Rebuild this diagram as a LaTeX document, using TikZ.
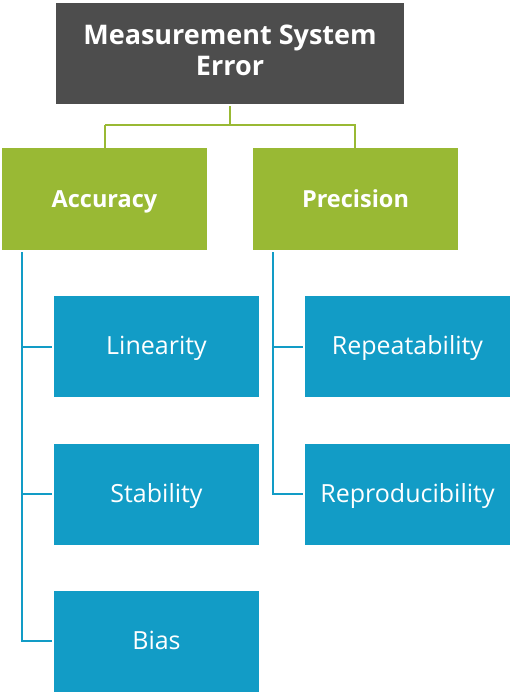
\documentclass[tikz,border=0pt]{standalone}
\usepackage{fontspec}
\setmainfont{Open Sans}
\definecolor{topgray}{HTML}{4D4D4D}
\definecolor{midgreen}{HTML}{99B934}
\definecolor{leafblue}{HTML}{129CC6}
\begin{document}
\begin{tikzpicture}[x=1pt,y=-1pt,
  topbox/.style={fill=topgray,text=white,font=\fontsize{27}{31}\selectfont\bfseries,align=center,inner sep=0pt,text depth=6pt},
  catbox/.style={fill=midgreen,text=white,font=\fontsize{23.5}{28}\selectfont\bfseries,inner sep=0pt,text height=20pt,text depth=4pt},
  leafbox/.style={fill=leafblue,text=white,font=\fontsize{25}{28}\selectfont,inner sep=0pt,text height=20pt,text depth=4pt},
  gline/.style={draw=midgreen,line width=2pt},
  bline/.style={draw=leafblue,line width=2pt}]
\useasboundingbox (0,0) rectangle (512,694);
\node[topbox,minimum width=348pt,minimum height=101pt] (top) at (230,53.5) {Measurement System\\Error};
\node[catbox,minimum width=205pt,minimum height=102pt] (acc) at (104.5,199) {Accuracy};
\node[catbox,minimum width=205pt,minimum height=102pt] (pre) at (355.5,199) {Precision};
\node[leafbox,minimum width=205pt,minimum height=101pt] (lin) at (156.5,346.5) {Linearity};
\node[leafbox,minimum width=205pt,minimum height=101pt] (sta) at (156.5,494) {Stability};
\node[leafbox,minimum width=205pt,minimum height=101pt] (bia) at (156.5,641) {Bias};
\node[leafbox,minimum width=205pt,minimum height=101pt] (rep) at (407.5,346.5) {Repeatability};
\node[leafbox,minimum width=205pt,minimum height=101pt] (rpr) at (407.5,494) {Reproducibility};
\coordinate (gmid) at (230,125);
\draw[gline] ([yshift=-2pt]top.south) -- (gmid);
\draw[gline] (105,125) -- ([yshift=-2pt]acc.north -| 105,0);
\draw[gline] (105,125) -- (355,125) -- ([yshift=-2pt]pre.north -| 355,0);
\coordinate (ab) at (22,252);
\coordinate (pb) at (273,252);
\draw[bline] (ab) |- ([xshift=-2pt]bia.west);
\draw[bline] (ab |- lin.west) -- ([xshift=-2pt]lin.west);
\draw[bline] (ab |- sta.west) -- ([xshift=-2pt]sta.west);
\draw[bline] (pb) |- ([xshift=-2pt]rpr.west);
\draw[bline] (pb |- rep.west) -- ([xshift=-2pt]rep.west);
\end{tikzpicture}
\end{document}
